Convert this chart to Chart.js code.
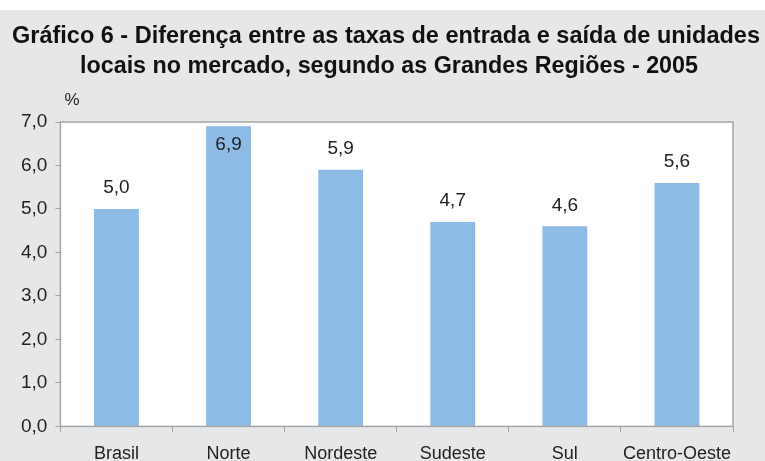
<!DOCTYPE html>
<html>
<head>
<script src="https://cdn.jsdelivr.net/npm/chart.js@4"></script>
<style>
  html, body { margin: 0; padding: 0; background: #fff; overflow: hidden; }
  #wrap { position: absolute; left: 0; top: 10px; width: 765px; height: 466px; background: #e6e7e9; }
</style>
</head>
<body>
<div id="wrap"><canvas id="myChart" width="765" height="466"></canvas></div>

<script>
    const regioes = ["Brasil", "Norte", "Nordeste", "Sudeste", "Sul", "Centro-Oeste"];
    const diferenca = [5.0, 6.9, 5.9, 4.7, 4.6, 5.6];
    const yTicks = [0, 1, 2, 3, 4, 5, 6, 7];
    const titulo = ["Gráfico 6 - Diferença entre as taxas de entrada e saída de unidades",
                    "locais no mercado, segundo as Grandes Regiões - 2005"];

    const fmt = v => v.toFixed(1).replace(".", ",");

    // title (condensed by scaling), plot frame, "%" label and value labels
    const extras = {
        id: "extras",
        beforeDatasetsDraw(chart) {
            const {ctx, chartArea: a} = chart;
            ctx.save();
            ctx.fillStyle = "#fff";
            ctx.fillRect(a.left, a.top, a.right - a.left, a.bottom - a.top);
            ctx.restore();
        },
        afterDatasetsDraw(chart) {
            const {ctx, chartArea: a} = chart;
            ctx.save();
            ctx.strokeStyle = "#a6a6a6";
            ctx.lineWidth = 1.5;
            ctx.strokeRect(a.left, a.top, a.right - a.left, a.bottom - a.top);

            ctx.fillStyle = "#111";
            ctx.textAlign = "center";
            ctx.textBaseline = "middle";
            ctx.font = "bold 23px 'Liberation Sans', Arial, sans-serif";
            const linhas = [[titulo[0], 386, 27, 748], [titulo[1], 389, 57, 618]];
            linhas.forEach(([t, cx, cy, w]) => {
                const k = w / ctx.measureText(t).width;
                ctx.save();
                ctx.translate(cx, cy);
                ctx.scale(k, 1);
                ctx.fillText(t, 0, 0);
                ctx.restore();
            });

            ctx.fillStyle = "#222";
            ctx.font = "17px 'Liberation Sans', Arial, sans-serif";
            ctx.fillText("%", 72, 90);

            ctx.font = "19px 'Liberation Sans', Arial, sans-serif";
            chart.getDatasetMeta(0).data.forEach((bar, i) => {
                let y = bar.y - 21;
                if (y - 9 < a.top) y = bar.y + 18;
                ctx.fillText(fmt(diferenca[i]), bar.x, y);
            });
            ctx.restore();
        }
    };

    const myChart = new Chart("myChart", {
        type: "bar",
        data: {
            labels: regioes,
            datasets: [{
                data: diferenca,
                backgroundColor: "#8dbbe6",
                barPercentage: 0.8,
                categoryPercentage: 0.5
            }]
        },
        options: {
            responsive: false,
            animation: false,
            layout: {padding: {left: 13, right: 32, top: 112, bottom: 0}},
            plugins: {
                legend: {display: false},
                tooltip: {enabled: false},
                title: {display: false}
            },
            scales: {
                x: {
                    grid: {display: true, drawOnChartArea: false, offset: true, tickLength: 6, color: "#a6a6a6"},
                    border: {color: "#a6a6a6"},
                    ticks: {color: "#222", font: {family: "'Liberation Sans', Arial, sans-serif", size: 18}, padding: 11, maxRotation: 0}
                },
                y: {
                    min: 0,
                    max: 7,
                    afterBuildTicks: axis => { axis.ticks = yTicks.map(v => ({value: v})); },
                    grid: {display: true, drawOnChartArea: false, tickLength: 5, color: "#a6a6a6"},
                    border: {color: "#a6a6a6"},
                    ticks: {color: "#222", font: {family: "'Liberation Sans', Arial, sans-serif", size: 19}, padding: 8, callback: v => fmt(v)}
                }
            }
        },
        plugins: [extras]
    });
</script>
</body>
</html>
